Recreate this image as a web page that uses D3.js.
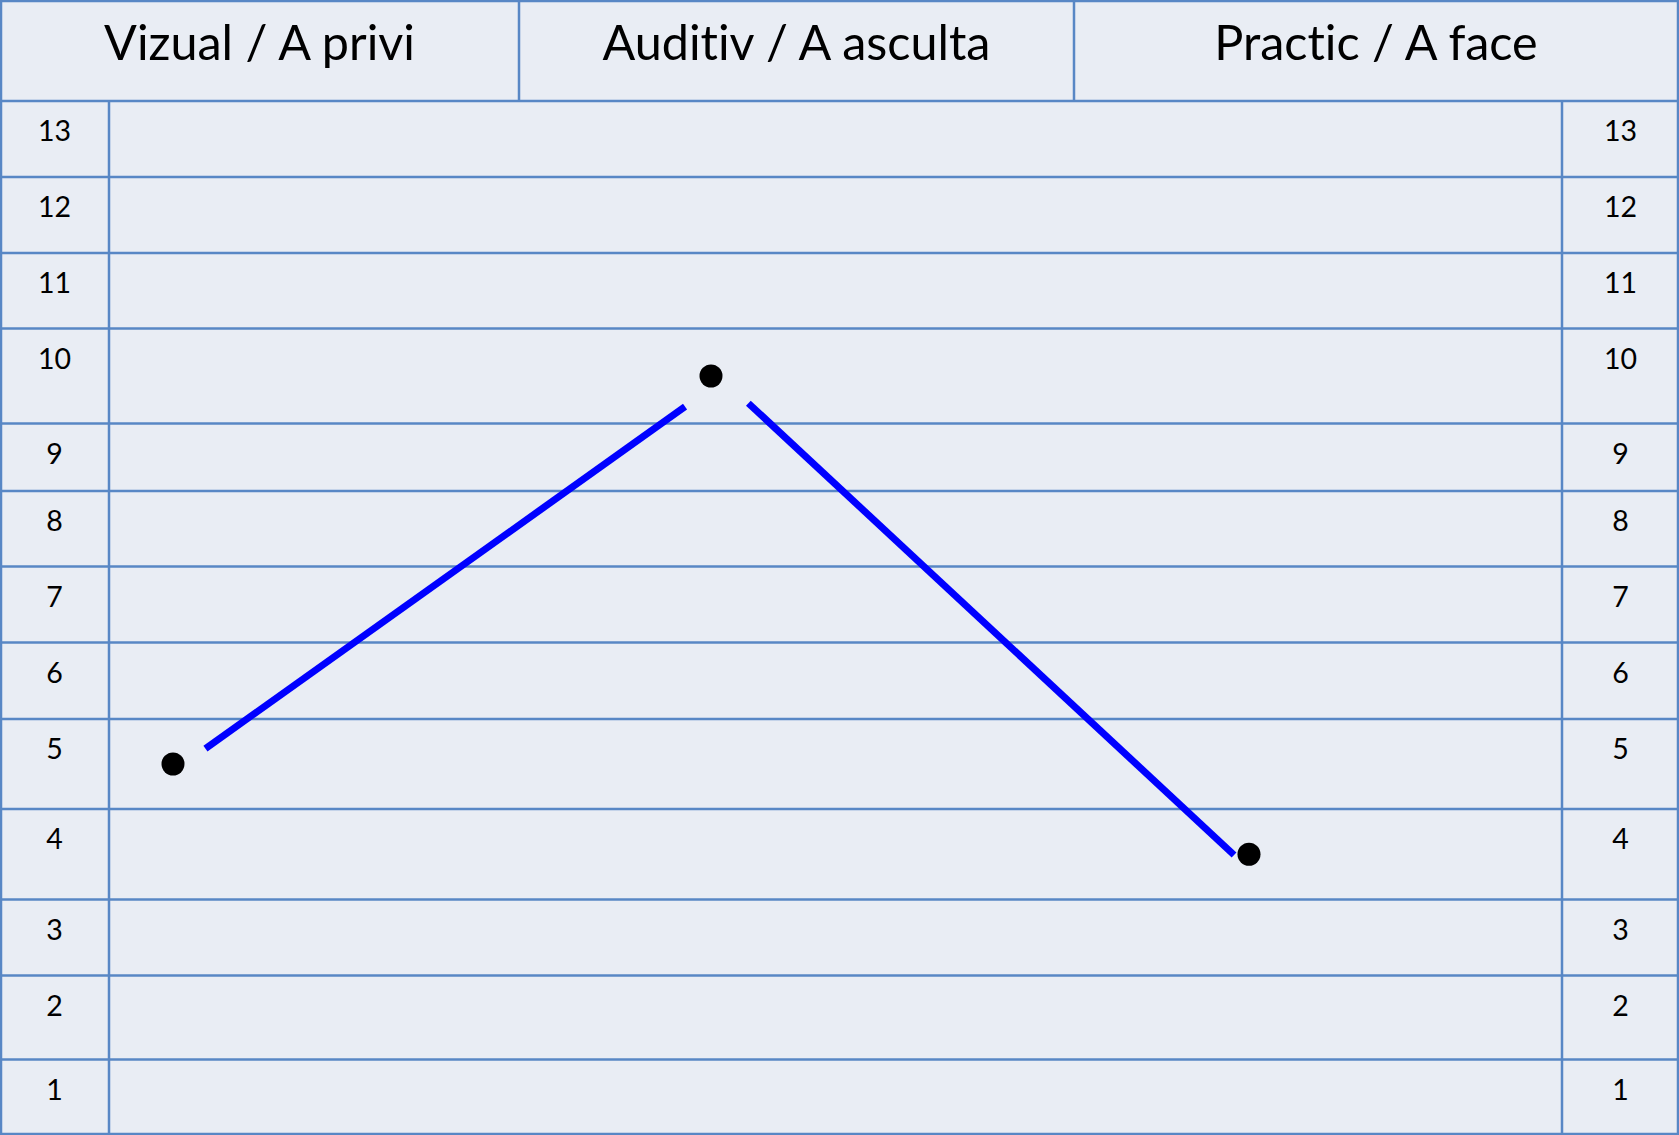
<!DOCTYPE html>
<html>
<head>
<meta charset="utf-8">
<script src="https://cdn.jsdelivr.net/npm/d3@7"></script>
<style>
	html, body { margin: 0; padding: 0; background: #e9edf4; }
	svg { display: block; }
	text { font-variant-ligatures: none; }
</style>
</head>
<body>
<svg id="chart"></svg>
<script>
// --- data ---
const categories = ["Vizual / A privi", "Auditiv / A asculta", "Practic / A face"];
const scores = [5, 10, 4];
const levels = [13, 12, 11, 10, 9, 8, 7, 6, 5, 4, 3, 2, 1];

// --- layout ---
const W = 1679, H = 1135;
const headerH = 101;
const headerCols = [0, 519, 1074, 1678];
const leftCol = 109, rightCol = 1562;
// row edges are uneven in the original table
const rowEdges = [101, 177, 253, 328.5, 423.5, 491, 566.5, 642.5, 719, 809, 899.5, 975.5, 1059.5, 1134];
const C = { bg: "#e9edf4", grid: "#5887c5", text: "#000", line: "#0000ff", dot: "#000" };

const svg = d3.select("#chart").attr("width", W).attr("height", H);
svg.append("rect").attr("width", W).attr("height", H).attr("fill", C.bg);

// value -> y, piecewise across the uneven rows
const y = d3.scaleLinear()
	.domain(levels.map(d => d + 0.5).concat([0.5]))
	.range(rowEdges);
const x = d3.scalePoint().domain(categories).range([173, 1249]);

const grid = svg.append("g").attr("stroke", C.grid).attr("stroke-width", 2.5).attr("fill", "none");
// outer border
grid.append("rect").attr("x", 1).attr("y", 1).attr("width", W - 2).attr("height", H - 2);
// header dividers
headerCols.slice(1, -1).forEach(cx => {
	grid.append("line").attr("x1", cx).attr("x2", cx).attr("y1", 0).attr("y2", headerH);
});
// row lines
rowEdges.slice(0, -1).forEach(ry => {
	grid.append("line").attr("x1", 0).attr("x2", W).attr("y1", ry).attr("y2", ry);
});
// side columns
[leftCol, rightCol].forEach(cx => {
	grid.append("line").attr("x1", cx).attr("x2", cx).attr("y1", headerH).attr("y2", H);
});

// header labels
svg.append("g").selectAll("text").data(categories).join("text")
	.attr("x", (d, i) => (headerCols[i] + headerCols[i + 1]) / 2)
	.attr("y", 60)
	.attr("text-anchor", "middle")
	.attr("font-family", "Lato, 'Open Sans', sans-serif")
	.attr("font-size", "48.5px")
	.attr("fill", C.text)
	.text(d => d);

// level labels both sides
[leftCol / 2, (rightCol + W) / 2].forEach(cx => {
	svg.append("g").selectAll("text").data(levels).join("text")
		.attr("x", cx)
		.attr("y", d => y(d + 0.5) + 40)
		.attr("text-anchor", "middle")
		.attr("font-family", "Lato, 'Open Sans', sans-serif")
		.attr("font-size", "28.5px")
		.attr("fill", C.text)
		.text(d => d);
});

// connectors: hand-drawn look, gaps near the dots and a small drift
const pts = categories.map((c, i) => [x(c), y(scores[i])]);
const gaps = [[40, 32], [50, 20]];
const drift = [[8, 12], [-6, 14]];
const segs = d3.pairs(pts).map(([a, b], i) => {
	const dx = b[0] - a[0], dy = b[1] - a[1];
	const len = Math.hypot(dx, dy);
	const ux = dx / len, uy = dy / len;
	return {
		x1: a[0] + ux * gaps[i][0], y1: a[1] + uy * gaps[i][0] + drift[i][0],
		x2: b[0] - ux * gaps[i][1], y2: b[1] - uy * gaps[i][1] + drift[i][1]
	};
});
svg.append("g").selectAll("line").data(segs).join("line")
	.attr("x1", d => d.x1).attr("y1", d => d.y1)
	.attr("x2", d => d.x2).attr("y2", d => d.y2)
	.attr("stroke", C.line).attr("stroke-width", 7);

svg.append("g").selectAll("circle").data(pts).join("circle")
	.attr("cx", d => d[0]).attr("cy", d => d[1])
	.attr("r", 11.5).attr("fill", C.dot);
</script>
</body>
</html>
